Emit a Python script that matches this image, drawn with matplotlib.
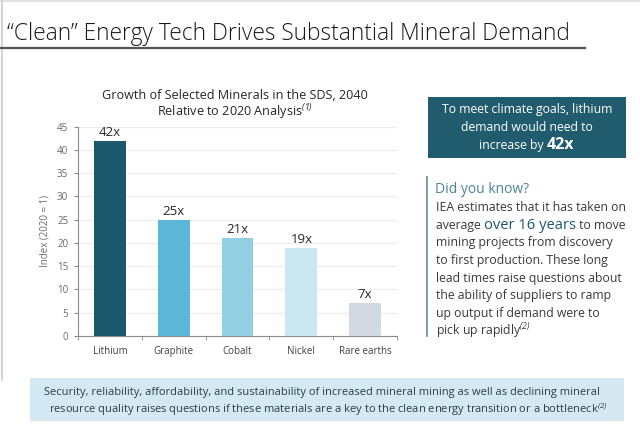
import matplotlib
matplotlib.use("Agg")
import matplotlib.pyplot as plt
from matplotlib.patches import Rectangle
from matplotlib.lines import Line2D

plt.rcParams['font.family'] = ['Open Sans', 'DejaVu Sans']
plt.rcParams['mathtext.fontset'] = 'custom'
plt.rcParams['mathtext.rm'] = 'Open Sans:italic'
plt.rcParams['mathtext.it'] = 'Open Sans:italic'

# ---- data ----
categories = ["Lithium", "Graphite", "Cobalt", "Nickel", "Rare earths"]
values = [42, 25, 21, 19, 7]
value_labels = ["42x", "25x", "21x", "19x", "7x"]
bar_colors = ["#1c586c", "#5cb7d6", "#93cfe4", "#c9e6f1", "#d3d9e1"]
yticks = [0, 5, 10, 15, 20, 25, 30, 35, 40, 45]

main_title = "\u201cClean\u201d Energy Tech Drives Substantial Mineral Demand"
chart_title = ["Growth of Selected Minerals in the SDS, 2040",
               "Relative to 2020 Analysis$^{\\mathrm{(1)}}$"]
ylabel = "Index (2020 = 1)"
box_lines = ["To meet climate goals, lithium", "demand would need to"]
box_last = ("increase by ", "42x")
did_you_know = "Did you know?"
body_lines = [
    "IEA estimates that it has taken on",
    None,  # composite line
    "mining projects from discovery",
    "to first production. These long",
    "lead times raise questions about",
    "the ability of suppliers to ramp",
    "up output if demand were to",
    "pick up rapidly$^{\\mathrm{(2)}}$",
]
body_composite = ("average ", "over 16 years", " to move")
bottom_lines = [
    "Security, reliability, affordability, and sustainability of increased mineral mining as well as declining mineral",
    "resource quality raises questions if these materials are a key to the clean energy transition or a bottleneck$^{\\mathrm{(2)}}$",
]

W, H = 640, 426
fig = plt.figure(figsize=(6.4, 4.26), dpi=100)
fig.patch.set_facecolor("white")
R = fig.canvas.get_renderer()


def P(x, y):
    return x / W, 1 - y / H


def txt(x, y, s, **kw):
    fx, fy = P(x, y)
    return fig.text(fx, fy, s, **kw)


def fit(t, target):
    w = t.get_window_extent(R).width
    t.set_fontsize(t.get_fontsize() * target / w)
    return t.get_fontsize()


# borders
fig.add_artist(Line2D([0, 1], [1 - 1 / H, 1 - 1 / H], transform=fig.transFigure, color="#e2e2e2", lw=1.5))
fig.add_artist(Line2D([1.5 / W, 1.5 / W], [1, 1 - 380 / H], transform=fig.transFigure, color="#d4d4d4", lw=1.5))

# main title
t = txt(7, 40, main_title, color="#1a1a1a", fontsize=16, fontweight="light", va="baseline")
fit(t, 564)
fig.add_artist(Line2D([0, 585 / W], [1 - 48 / H] * 2, transform=fig.transFigure, color="#555555", lw=1.6))

# chart axes
ax = fig.add_axes([78 / W, 1 - 336 / H, 319 / W, (336 - 126.7) / H])
x = list(range(len(categories)))
ax.bar(x, values, width=0.5, color=bar_colors, zorder=3)
ax.set_ylim(0, 45)
ax.set_xlim(-0.5, len(categories) - 0.5)
ax.set_yticks(yticks)
ax.set_yticklabels([str(v) for v in yticks], fontsize=7, color="#6a6a6a")
ax.set_xticks(x)
ax.set_xticklabels(categories, fontsize=7, color="#404040")
ax.tick_params(axis="x", length=0, pad=7)
ax.set_xticks([i - 0.5 for i in range(len(categories) + 1)], minor=True)
ax.tick_params(axis="x", which="minor", length=3, color="#888888", direction="out")
ax.tick_params(axis="y", length=3, color="#888888", pad=4)
ax.grid(axis="y", color="#ececec", lw=0.9, zorder=0)
for s in ["top", "right"]:
    ax.spines[s].set_visible(False)
ax.spines["left"].set_color("#8c8c8c")
ax.spines["bottom"].set_color("#8c8c8c")
ax.spines["left"].set_linewidth(0.8)
ax.spines["bottom"].set_linewidth(0.8)
ax.set_ylabel(ylabel, fontsize=7, color="#6a6a6a", labelpad=5)
for xi, v, lab in zip(x, values, value_labels):
    ax.annotate(lab, (xi, v), xytext=(0, 1.5), textcoords="offset points",
                ha="center", va="bottom", fontsize=9.5, color="#262626")

# chart title
t1 = txt(235, 99, chart_title[0], ha="center", va="baseline", color="#262626", fontsize=10)
fs = fit(t1, 264)
txt(235, 116, chart_title[1], ha="center", va="baseline", color="#262626", fontsize=fs)

# right teal box
fig.add_artist(Rectangle(P(428, 158), 198 / W, 61 / H, transform=fig.transFigure,
                         facecolor="#215b6e", edgecolor="none"))
b0 = txt(527, 113, box_lines[0], ha="center", va="baseline", color="white", fontsize=10)
bfs = fit(b0, 172)
txt(527, 131, box_lines[1], ha="center", va="baseline", color="white", fontsize=bfs)
p1 = txt(0, 149, box_last[0], va="baseline", color="white", fontsize=bfs)
p2 = txt(0, 149, box_last[1], va="baseline", color="white", fontsize=bfs * 1.3, fontweight="bold")
w1 = p1.get_window_extent(R).width
w2 = p2.get_window_extent(R).width
start = 527 - (w1 + w2) / 2
p1.set_x(start / W)
p2.set_x((start + w1) / W)

# did you know
fig.add_artist(Line2D([427 / W] * 2, [1 - 177 / H, 1 - 336 / H], transform=fig.transFigure,
                      color="#6d97a8", lw=1.3))
d = txt(435, 193, did_you_know, va="baseline", color="#4b8499", fontsize=11)
body_y0, body_dy = 211, 17.7
first = txt(436, body_y0, body_lines[0], va="baseline", color="#3a3a3a", fontsize=10)
bodyfs = fit(first, 191)
d.set_fontsize(bodyfs * 1.13)
for i, line in enumerate(body_lines):
    if i == 0:
        continue
    y = body_y0 + i * body_dy
    if line is None:
        a = txt(436, y, body_composite[0], va="baseline", color="#3a3a3a", fontsize=bodyfs)
        bx = 436 + a.get_window_extent(R).width
        b = txt(bx, y, body_composite[1], va="baseline", color="#1c586c", fontsize=bodyfs * 1.2)
        cx = bx + b.get_window_extent(R).width
        txt(cx, y, body_composite[2], va="baseline", color="#3a3a3a", fontsize=bodyfs)
    else:
        txt(436, y, line, va="baseline", color="#3a3a3a", fontsize=bodyfs)

# bottom box
fig.add_artist(Rectangle(P(30, 421), 594 / W, 43 / H, transform=fig.transFigure,
                         facecolor="#d4e9f3", edgecolor="none"))
l0 = txt(322, 395, bottom_lines[0], ha="center", va="baseline", color="#2b3e4a", fontsize=9)
bfs2 = fit(l0, 561)
txt(328, 413, bottom_lines[1], ha="center", va="baseline", color="#2b3e4a", fontsize=bfs2)

fig.savefig("out.png", dpi=100, facecolor="white")
